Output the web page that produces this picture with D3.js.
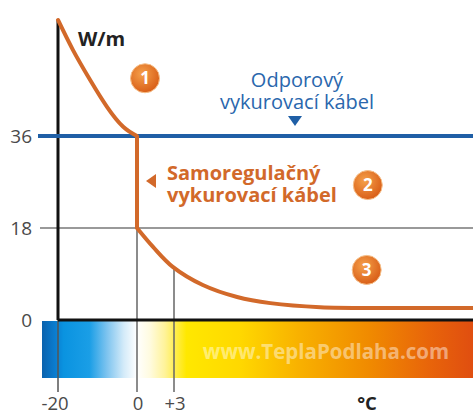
<!DOCTYPE html>
<html><head><meta charset="utf-8">
<script src="https://cdn.jsdelivr.net/npm/d3@7"></script>
<style>html,body{margin:0;padding:0;background:#fff;}svg{display:block;}</style>
</head><body><svg id="c" width="473" height="416"></svg>
<script>
// ---- data ----
const xTickValues = [-20, 0, 3];
const xTickLabels = ["-20", "0", "+3"];
const yTickValues = [0, 18, 36];
const yTickLabels = ["0", "18", "36"];
const resistiveW = 36;
const highT = [-20, -16.2, -11.9, -7.6, -3.5, 0];
const highW = [58.7, 52.8, 47.0, 41.7, 37.8, 36];
const lowT = [0, 1.3, 2.9, 5.6, 8.7, 11.7, 16.2, 22.2, 30];
const lowW = [18, 14.3, 10.4, 6.85, 4.5, 3.3, 2.5, 2.35, 2.35];
const badgeLabels = ["1", "2", "3"];
const badgeT = [0.65, 20.5, 20.4];
const badgeW = [47.3, 26.4, 9.8];
const unitY = "W/m", unitX = "°C";
const resistiveLabel = ["Odporový", "vykurovací kábel"];
const selfRegLabel = ["Samoregulačný", "vykurovací kábel"];
const watermark = "www.TeplaPodlaha.com";

// ---- scales ----
const x = d3.scaleLinear().domain([-20, 0, 3, 30]).range([58, 137, 174, 473]);
const y = d3.scaleLinear().domain([0, 36]).range([320, 136]);
const svg = d3.select("#c");
const W = 473;
const orange = "#d2692a", blue = "#1f5fa6";
const font = "'Open Sans', sans-serif";

const defs = svg.append("defs");
const grad = defs.append("linearGradient").attr("id", "bar")
  .attr("gradientUnits", "userSpaceOnUse").attr("x1", 42).attr("x2", W).attr("y1", 0).attr("y2", 0);
[[0, "#0b62ad"], [0.03, "#0a7ccf"], [0.05, "#0a93e0"], [0.11, "#1a9ee6"], [0.15, "#7cc3ef"],
 [0.19, "#d4ebf9"], [0.22, "#ffffff"], [0.25, "#fffbe0"], [0.285, "#fff39a"], [0.335, "#ffe800"],
 [0.46, "#ffd800"], [0.6, "#f8b000"], [0.76, "#f08a00"], [0.9, "#e8640a"], [1, "#e04e10"]]
  .forEach(([o, c]) => grad.append("stop").attr("offset", o).attr("stop-color", c));
const rg = defs.append("radialGradient").attr("id", "badge").attr("cx", "40%").attr("cy", "35%").attr("r", "65%");
rg.append("stop").attr("offset", 0).attr("stop-color", "#f5a04a");
rg.append("stop").attr("offset", 1).attr("stop-color", "#d95f18");

// colour bar
svg.append("rect").attr("x", 42).attr("y", y(0) + 1).attr("width", W - 42).attr("height", 57).attr("fill", "url(#bar)");
svg.append("text").attr("x", 326).attr("y", 359).attr("text-anchor", "middle")
  .attr("font-family", font).attr("font-weight", "bold").attr("font-size", 20.5)
  .attr("fill", "#fff").attr("fill-opacity", 0.45).text(watermark);

// horizontal grid at 18
svg.append("line").attr("x1", 40).attr("x2", W).attr("y1", y(18)).attr("y2", y(18))
  .attr("stroke", "#777").attr("stroke-width", 1.5);

// vertical guides
const lowAt3 = d3.scaleLinear().domain(lowT).range(lowW);
svg.append("line").attr("x1", x(0)).attr("x2", x(0)).attr("y1", y(18)).attr("y2", 392).attr("stroke", "#666").attr("stroke-width", 1.5);
svg.append("line").attr("x1", x(3)).attr("x2", x(3)).attr("y1", y(lowAt3(3))).attr("y2", 392).attr("stroke", "#666").attr("stroke-width", 1.5);
svg.append("line").attr("x1", x(-20)).attr("x2", x(-20)).attr("y1", y(0)).attr("y2", 392).attr("stroke", "#555").attr("stroke-width", 1.5);

// axes
svg.append("line").attr("x1", x(-20)).attr("x2", W).attr("y1", y(0)).attr("y2", y(0)).attr("stroke", "#111").attr("stroke-width", 3);
svg.append("line").attr("x1", x(-20)).attr("x2", x(-20)).attr("y1", y(highW[0])).attr("y2", y(0)).attr("stroke", "#111").attr("stroke-width", 3);

// resistive cable line
svg.append("line").attr("x1", 38).attr("x2", W).attr("y1", y(resistiveW)).attr("y2", y(resistiveW))
  .attr("stroke", blue).attr("stroke-width", 4);

// self-regulating curve
const lineHigh = d3.line().x(d => x(d[0])).y(d => y(d[1])).curve(d3.curveNatural);
const lineLow = d3.line().x(d => x(d[0])).y(d => y(d[1])).curve(d3.curveCatmullRom.alpha(0.5));
const high = highT.map((t, i) => [t, highW[i]]);
const low = lowT.map((t, i) => [t, lowW[i]]);
svg.append("path").attr("d", lineHigh(high)).attr("fill", "none").attr("stroke", orange).attr("stroke-width", 4).attr("stroke-linecap", "round");
svg.append("line").attr("x1", x(0)).attr("x2", x(0)).attr("y1", y(highW[highW.length - 1])).attr("y2", y(lowW[0]))
  .attr("stroke", orange).attr("stroke-width", 4);
svg.append("path").attr("d", lineLow(low)).attr("fill", "none").attr("stroke", orange).attr("stroke-width", 4).attr("stroke-linecap", "round");

// y tick labels
svg.selectAll(".yl").data(yTickValues).enter().append("text")
  .attr("x", 32).attr("y", d => y(d) + 7).attr("text-anchor", "end")
  .attr("font-family", font).attr("font-size", 19).attr("fill", "#4a4a4a")
  .text((d, i) => yTickLabels[i]);
// x tick labels
svg.selectAll(".xl").data(xTickValues).enter().append("text")
  .attr("x", (d, i) => x(d) + [-3, 1, 1][i]).attr("y", 410).attr("text-anchor", "middle")
  .attr("font-family", font).attr("font-size", 18.5).attr("fill", "#4a4a4a")
  .text((d, i) => xTickLabels[i]);
svg.append("text").attr("x", 367).attr("y", 410).attr("text-anchor", "middle")
  .attr("font-family", font).attr("font-weight", "bold").attr("font-size", 18.5).attr("fill", "#222").text(unitX);
svg.append("text").attr("x", 78).attr("y", 46)
  .attr("font-family", font).attr("font-weight", "bold").attr("font-size", 20).attr("fill", "#222").text(unitY);

// resistive label (one text, two lines)
const rt = svg.append("text").attr("text-anchor", "middle")
  .attr("font-family", font).attr("font-size", 20).attr("fill", "#2a67ad");
rt.selectAll("tspan").data(resistiveLabel).enter().append("tspan")
  .attr("x", 297).attr("y", (d, i) => 87 + i * 22).text(d => d);
svg.append("path").attr("d", "M288,116 L302,116 L295,126 Z").attr("fill", blue);

// self-regulating label (one text, two lines)
const st = svg.append("text")
  .attr("font-family", font).attr("font-weight", "bold").attr("font-size", 20).attr("fill", orange);
st.selectAll("tspan").data(selfRegLabel).enter().append("tspan")
  .attr("x", 167).attr("y", (d, i) => 180 + i * 22).text(d => d);
svg.append("path").attr("d", "M146,181 L156,174 L156,188 Z").attr("fill", orange);

// badges
const b = svg.selectAll(".badge").data(badgeLabels).enter().append("g")
  .attr("transform", (d, i) => `translate(${x(badgeT[i])},${y(badgeW[i])})`);
b.append("circle").attr("r", 14.5).attr("fill", "url(#badge)").attr("stroke", "#f6c08a").attr("stroke-width", 1);
b.append("text").attr("y", 6).attr("text-anchor", "middle").attr("font-family", font)
  .attr("font-weight", "bold").attr("font-size", 17).attr("fill", "#fff").text(d => d);
</script></body></html>
